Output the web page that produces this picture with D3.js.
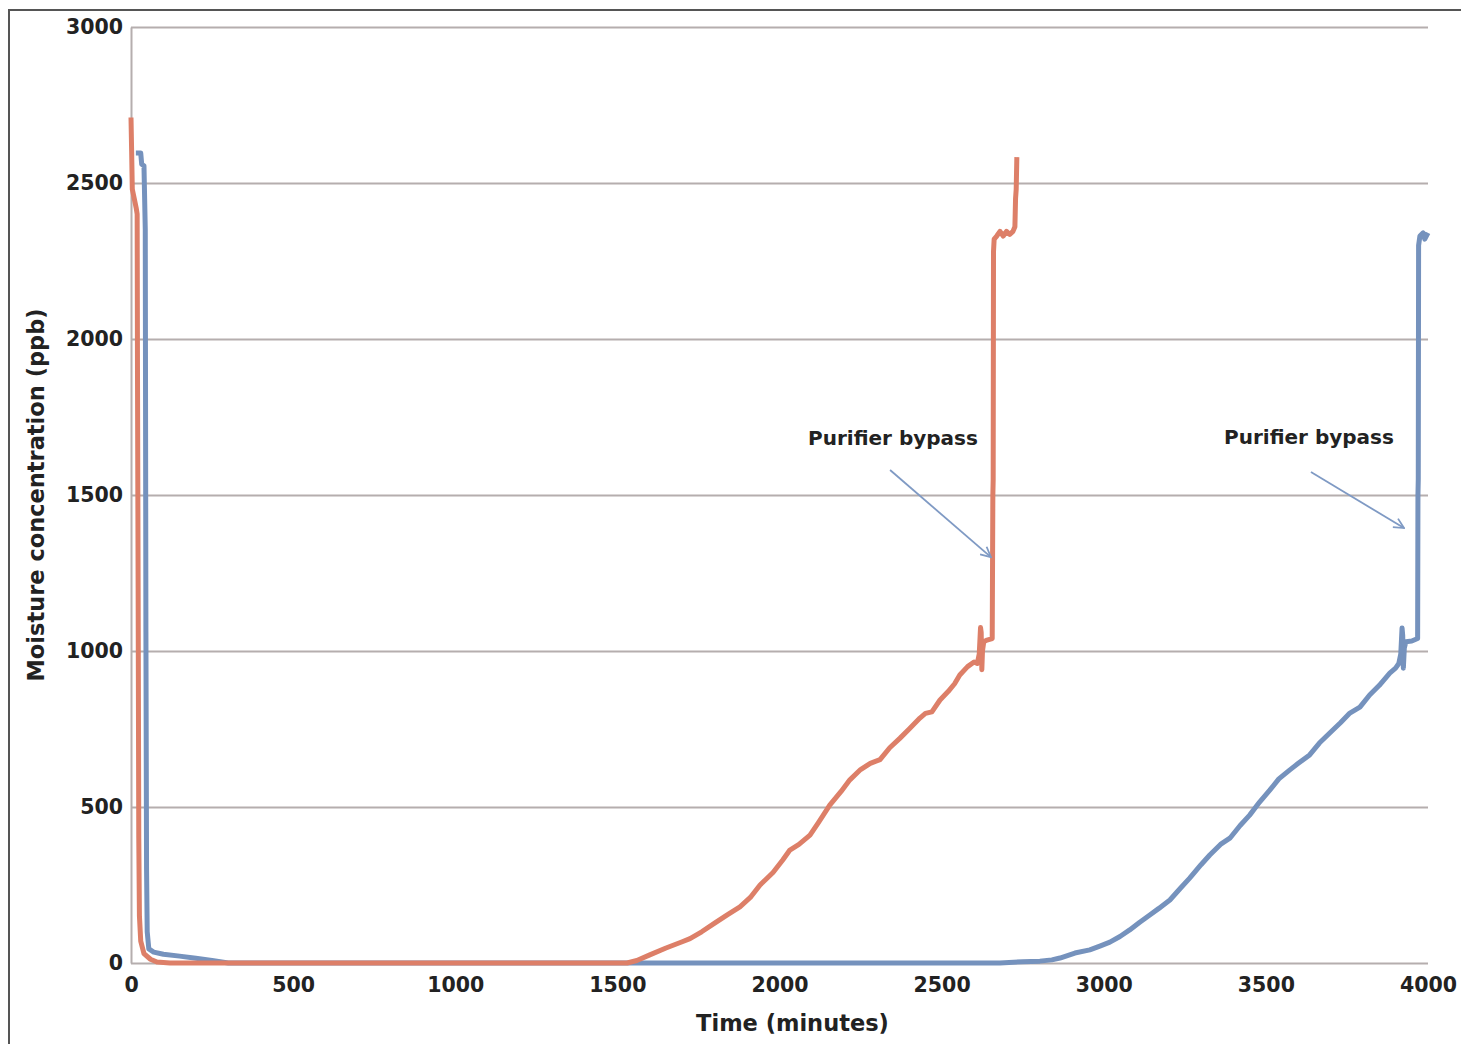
<!DOCTYPE html>
<html>
<head>
<meta charset="utf-8">
<script src="https://cdn.jsdelivr.net/npm/d3@7"></script>
<style>
  body { margin: 0; background: #fff; }
  .axis text { font-family: "DejaVu Sans", sans-serif; font-weight: bold; font-size: 20.5px; fill: #222; }
  .label { font-family: "DejaVu Sans", sans-serif; font-weight: bold; font-size: 22.5px; fill: #222; }
  .note { font-family: "DejaVu Sans", sans-serif; font-weight: bold; font-size: 20px; fill: #222; }
</style>
</head>
<body>
<div id="chart"></div>
<script>
// data: [time (minutes), moisture (ppb)]
var orangeSeries = [[0,2710],[2,2600],[4,2480],[10,2450],[16,2420],[19,2400],[20,1900],[22,1200],[24,400],[26,150],[30,70],[40,30],[60,12],[80,3],[120,0],
  [1530,0],[1560,8],[1600,26],[1650,48],[1700,68],[1724,78],[1760,100],[1800,128],[1840,155],[1878,180],[1910,210],[1940,250],[1980,290],[2010,330],[2032,362],
  [2060,380],[2094,410],[2120,450],[2155,506],[2190,550],[2217,587],[2250,620],[2280,640],[2310,652],[2340,690],[2371,720],[2400,750],[2433,785],[2450,800],
  [2470,805],[2495,843],[2520,870],[2540,895],[2556,923],[2580,950],[2600,965],[2610,960],[2616,990],[2620,1075],[2622,1060],[2624,940],[2626,1000],
  [2630,1030],[2640,1035],[2656,1040],[2658,1500],[2659,1550],[2660,2280],[2662,2320],[2670,2330],[2680,2345],[2690,2330],[2700,2345],[2710,2335],
  [2720,2345],[2726,2360],[2728,2450],[2730,2480],[2732,2583]];

var blueSeries = [[15,2596],[30,2596],[33,2560],[40,2555],[44,2350],[46,1060],[48,300],[50,100],[55,45],[70,35],[100,28],[150,22],[200,15],[250,8],[280,3],[300,0],
  [2680,0],[2750,4],[2803,6],[2840,10],[2865,16],[2911,32],[2957,42],[2990,55],[3019,67],[3050,85],[3080,106],[3110,130],[3142,154],[3170,175],[3204,202],
  [3235,238],[3265,272],[3300,315],[3327,346],[3360,380],[3389,400],[3420,440],[3450,474],[3480,515],[3512,554],[3540,590],[3574,619],[3600,640],[3635,667],
  [3665,705],[3697,737],[3730,770],[3759,801],[3790,820],[3820,859],[3850,890],[3882,929],[3900,945],[3910,960],[3916,990],[3920,1074],[3922,1050],
  [3924,945],[3927,1010],[3932,1030],[3950,1032],[3968,1040],[3969,1500],[3970,1550],[3971,2300],[3975,2330],[3985,2340],[3990,2320],[4000,2340]];

var xTicks = [0, 500, 1000, 1500, 2000, 2500, 3000, 3500, 4000];
var yTicks = [0, 500, 1000, 1500, 2000, 2500, 3000];

// annotations: text position and arrow from/to, in data units
var notes = [
  {text: "Purifier bypass", at: [2350, 1660], from: [2341, 1580], to: [2652, 1301]},
  {text: "Purifier bypass", at: [3633, 1665], from: [3639, 1574], to: [3926, 1394]}
];

var margin = {top: 27, right: 33, bottom: 81, left: 131};
var W = 1461, H = 1044;
var width = W - margin.left - margin.right;
var height = H - margin.top - margin.bottom;

var svg = d3.select("#chart").append("svg")
  .attr("width", W).attr("height", H);

// outer frame (left and top)
svg.append("path")
  .attr("d", "M9," + H + "V10H" + W)
  .attr("fill", "none").attr("stroke", "#555").attr("stroke-width", 2);

var g = svg.append("g").attr("transform", "translate(" + margin.left + "," + margin.top + ")");

var x = d3.scaleLinear().domain([0, 4000]).range([0, width]);
var y = d3.scaleLinear().domain([0, 3000]).range([height, 0]);

// y axis with gridlines
var yAxis = g.append("g").attr("class", "axis")
  .call(d3.axisLeft(y).tickValues(yTicks).tickFormat(d3.format("d"))
    .tickSize(-width).tickSizeOuter(0).tickPadding(8));
yAxis.select(".domain").attr("stroke", "#b5aeae").attr("stroke-width", 2);
yAxis.selectAll(".tick line").attr("stroke", "#b5aeae").attr("stroke-width", 2);

// x axis labels
var xAxis = g.append("g").attr("class", "axis")
  .attr("transform", "translate(0," + height + ")")
  .call(d3.axisBottom(x).tickValues(xTicks).tickFormat(d3.format("d")).tickSize(0).tickPadding(14));
xAxis.select(".domain").remove();

// series
var line = d3.line().x(function(d) { return x(d[0]); }).y(function(d) { return y(d[1]); });

g.append("path").datum(blueSeries)
  .attr("fill", "none").attr("stroke", "#7592bd").attr("stroke-width", 5)
  .attr("stroke-linejoin", "round").attr("d", line);

g.append("path").datum(orangeSeries)
  .attr("fill", "none").attr("stroke", "#dd7f68").attr("stroke-width", 5)
  .attr("stroke-linejoin", "round").attr("d", line);

// annotations
svg.append("defs").append("marker")
  .attr("id", "arr").attr("viewBox", "0 0 12 12").attr("refX", 11).attr("refY", 6)
  .attr("markerWidth", 12).attr("markerHeight", 12).attr("markerUnits", "userSpaceOnUse")
  .attr("orient", "auto")
  .append("path").attr("d", "M1,1L11,6L1,11").attr("fill", "none")
  .attr("stroke", "#7f9ac4").attr("stroke-width", 1.8);

notes.forEach(function(n) {
  g.append("text").attr("class", "note")
    .attr("x", x(n.at[0])).attr("y", y(n.at[1]))
    .attr("text-anchor", "middle").text(n.text);
  g.append("line")
    .attr("x1", x(n.from[0])).attr("y1", y(n.from[1]))
    .attr("x2", x(n.to[0])).attr("y2", y(n.to[1]))
    .attr("stroke", "#7f9ac4").attr("stroke-width", 1.8)
    .attr("marker-end", "url(#arr)");
});

// axis titles
svg.append("text").attr("class", "label")
  .attr("x", margin.left + x(2040)).attr("y", 1031)
  .attr("text-anchor", "middle").text("Time (minutes)");

svg.append("text").attr("class", "label")
  .attr("transform", "translate(44," + (margin.top + y(1500)) + ") rotate(-90)")
  .attr("text-anchor", "middle").text("Moisture concentration (ppb)");
</script>
</body>
</html>
